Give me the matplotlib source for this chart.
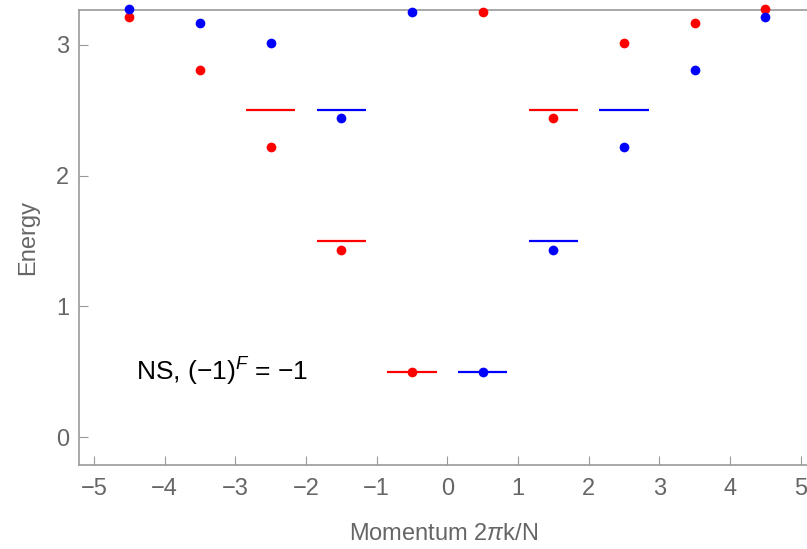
import numpy as np
import matplotlib.pyplot as plt

plt.rcParams['font.family'] = ['Liberation Sans', 'DejaVu Sans']
plt.rcParams['mathtext.fontset'] = 'custom'
plt.rcParams['mathtext.rm'] = 'Liberation Sans'
plt.rcParams['mathtext.it'] = 'Liberation Sans:italic'

# momenta (k + 1/2) for the two sectors
momenta = [-4.5, -3.5, -2.5, -1.5, -0.5, 0.5, 1.5, 2.5, 3.5, 4.5]
red_energy = [3.21, 2.81, 2.22, 1.43, 0.50, 3.25, 2.44, 3.01, 3.17, 3.275]
blue_energy = [3.275, 3.17, 3.01, 2.44, 3.25, 0.50, 1.43, 2.22, 2.81, 3.21]

# exact levels drawn as short bars
red_lvl_x = [-2.5, -1.5, 1.5, -0.5]
red_lvl_e = [2.5, 1.5, 2.5, 0.5]
blue_lvl_x = [-1.5, 2.5, 1.5, 0.5]
blue_lvl_e = [2.5, 2.5, 1.5, 0.5]
half_w = 0.35

gray = '#666666'
fig = plt.figure(figsize=(8.07, 5.49), dpi=100)
ax = fig.add_axes([0.098, 0.153, 0.902, 0.829])

ax.hlines(red_lvl_e, np.array(red_lvl_x) - half_w, np.array(red_lvl_x) + half_w,
          color='#ff0000', lw=1.6)
ax.hlines(blue_lvl_e, np.array(blue_lvl_x) - half_w, np.array(blue_lvl_x) + half_w,
          color='#0000ff', lw=1.6)
ax.plot(momenta, red_energy, 'o', color='#ff0000', ms=7, mew=0, clip_on=False, zorder=3)
ax.plot(momenta, blue_energy, 'o', color='#0000ff', ms=7, mew=0, clip_on=False, zorder=3)

ax.text(-4.4, 0.5, r'NS, (−1)$^{F}$ = −1', fontsize=19, va='center', ha='left', color='black')

ax.set_xlim(-5.21, 5.09)
ax.set_ylim(-0.214, 3.267)
ax.set_xticks(range(-5, 6))
ax.set_yticks([0, 1, 2, 3])
ax.tick_params(direction='in', length=6.5, width=0.8, color='#999999',
               labelcolor=gray, labelsize=17)
ax.tick_params(axis='x', pad=9)
ax.tick_params(axis='y', pad=7)
for s in ['left', 'bottom', 'top']:
    ax.spines[s].set_color('#999999')
    ax.spines[s].set_linewidth(1.2)
ax.spines['right'].set_visible(False)

ax.set_xlabel(r'Momentum 2$\pi$k/N', fontsize=17, color=gray, labelpad=17)
ax.set_ylabel('Energy', fontsize=17, color=gray, labelpad=12)

fig.savefig('out.png', dpi=100)
